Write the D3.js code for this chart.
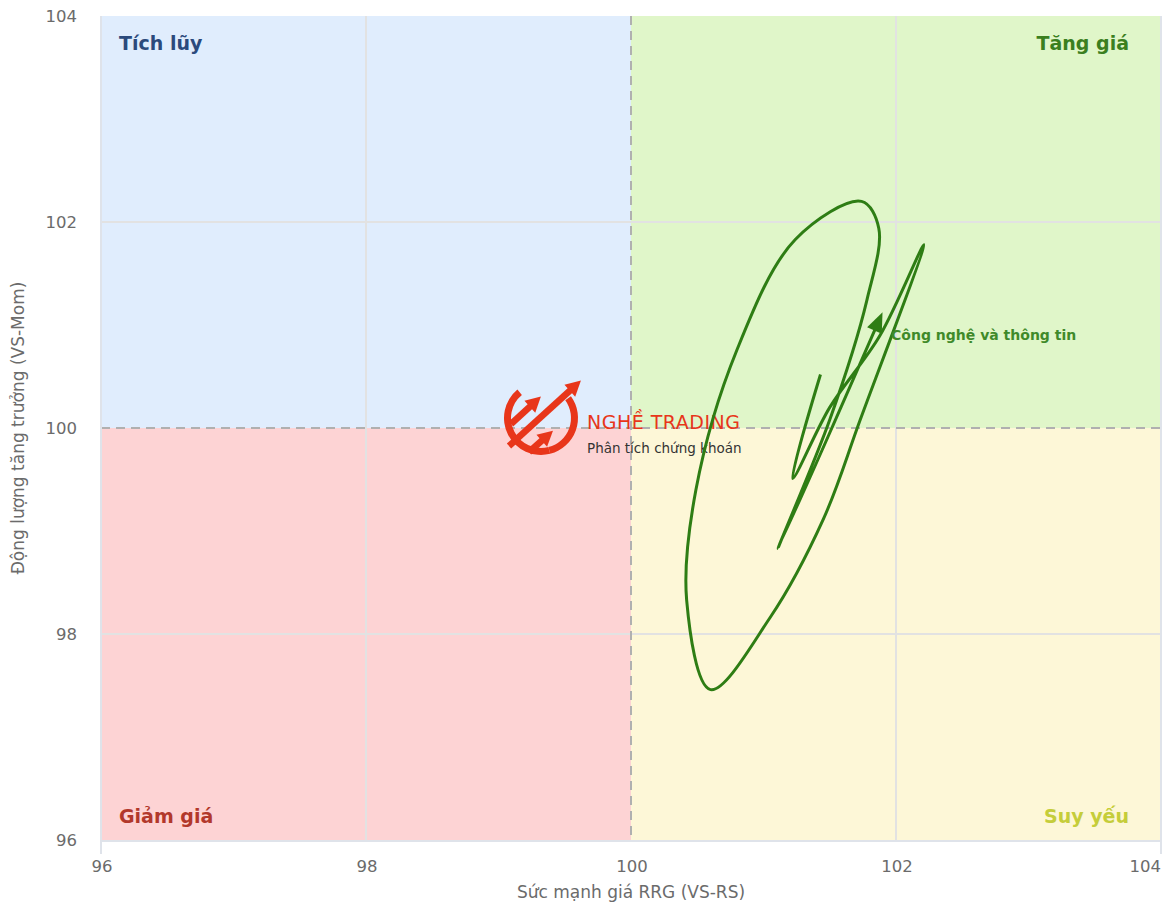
<!DOCTYPE html>
<html><head><meta charset="utf-8">
<script src="https://cdn.jsdelivr.net/npm/d3@7"></script>
<style>
body{margin:0;background:#fff;}
text{font-family:"DejaVu Sans",sans-serif;}
</style></head>
<body><svg id="c" width="1170" height="912"></svg>
<script>
const xTicks=[96,98,100,102,104];
const yTicks=[96,98,100,102,104];
const seriesName="Công nghệ và thông tin";
const rsValues=[101.43,101.22,101.5,101.88,102.21,101.73,101.45,101.05,100.6,100.42,100.49,100.8,101.24,101.74,101.87,101.78,101.5,101.11,101.88];
const momValues=[100.52,99.51,100.2,100.9,101.78,100.08,99.11,98.16,97.46,98.33,99.4,100.76,101.83,102.2,101.94,101.24,100.08,98.83,101.07];
const quadrants=[
 {name:"Tích lũy",x0:96,x1:100,y0:100,y1:104,fill:"#e0edfd",color:"#2b4a7c",pos:"tl"},
 {name:"Tăng giá",x0:100,x1:104,y0:100,y1:104,fill:"#e0f6c9",color:"#3b7f1f",pos:"tr"},
 {name:"Giảm giá",x0:96,x1:100,y0:96,y1:100,fill:"#fdd3d4",color:"#b2382b",pos:"bl"},
 {name:"Suy yếu",x0:100,x1:104,y0:96,y1:100,fill:"#fdf7d7",color:"#c5cd3a",pos:"br"}
];
const svg=d3.select("#c");
const x=d3.scaleLinear().domain([96,104]).range([101,1161]);
const y=d3.scaleLinear().domain([96,104]).range([840,16]);

svg.selectAll("rect.q").data(quadrants).join("rect")
 .attr("x",d=>x(d.x0)).attr("y",d=>y(d.y1))
 .attr("width",d=>x(d.x1)-x(d.x0)).attr("height",d=>y(d.y0)-y(d.y1))
 .attr("fill",d=>d.fill);

// grid
svg.selectAll("line.gx").data(xTicks.filter(t=>t!==100&&t!==96&&t!==104)).join("line")
 .attr("x1",d=>x(d)).attr("x2",d=>x(d)).attr("y1",y(104)).attr("y2",y(96))
 .attr("stroke","#e2e2e2").attr("stroke-width",2);
svg.selectAll("line.gy").data(yTicks.filter(t=>t!==100&&t!==96&&t!==104)).join("line")
 .attr("y1",d=>y(d)).attr("y2",d=>y(d)).attr("x1",x(96)).attr("x2",x(104))
 .attr("stroke","#e2e2e2").attr("stroke-width",2);
svg.append("line").attr("x1",x(100)).attr("x2",x(100)).attr("y1",y(104)).attr("y2",y(96))
 .attr("stroke","#b0b0b0").attr("stroke-width",2).attr("stroke-dasharray","9,6");
svg.append("line").attr("y1",y(100)).attr("y2",y(100)).attr("x1",x(96)).attr("x2",x(104))
 .attr("stroke","#b0b0b0").attr("stroke-width",2).attr("stroke-dasharray","9,6");
// outer lines
svg.append("line").attr("x1",x(96)).attr("x2",x(96)).attr("y1",y(104)).attr("y2",y(96)+14).attr("stroke","#dfe3ea").attr("stroke-width",2);
svg.append("line").attr("x1",x(104)).attr("x2",x(104)).attr("y1",y(104)).attr("y2",y(96)+14).attr("stroke","#dfe3ea").attr("stroke-width",2);
svg.append("line").attr("x1",x(96)).attr("x2",x(104)).attr("y1",y(96)+1).attr("y2",y(96)+1).attr("stroke","#dfe3ea").attr("stroke-width",2);

// tick labels
svg.selectAll("text.yt").data(yTicks).join("text")
 .attr("x",77).attr("y",d=>y(d)+6).attr("text-anchor","end")
 .attr("font-size",16.5).attr("fill","#6b6b6b").text(d=>d);
svg.selectAll("text.xt").data(xTicks).join("text")
 .attr("x",(d,i)=>i===xTicks.length-1?x(d):x(d)+1).attr("y",y(96)+32)
 .attr("text-anchor",(d,i)=>i===xTicks.length-1?"end":"middle")
 .attr("font-size",16.5).attr("fill","#6b6b6b").text(d=>d);
svg.append("text").attr("x",x(100)).attr("y",898).attr("text-anchor","middle")
 .attr("font-size",17).attr("fill","#6b6b6b").text("Sức mạnh giá RRG (VS-RS)");
svg.append("text").attr("transform",`translate(24,${y(100)}) rotate(-90)`).attr("text-anchor","middle")
 .attr("font-size",17).attr("fill","#6b6b6b").text("Động lượng tăng trưởng (VS-Mom)");

// quadrant labels
svg.selectAll("text.ql").data(quadrants).join("text")
 .attr("x",d=>d.pos[1]==="l"?x(96)+18:x(104)-32)
 .attr("y",d=>d.pos[0]==="t"?y(104)+34:y(96)-17)
 .attr("text-anchor",d=>d.pos[1]==="l"?"start":"end")
 .attr("font-size",19).attr("font-weight","bold").attr("fill",d=>d.color).text(d=>d.name);

// watermark logo
const lg=svg.append("g").attr("transform","translate(541,418)");
const red="#e8361a";
lg.append("path").attr("d",d3.arc()({innerRadius:30,outerRadius:37,startAngle:-0.22*Math.PI,endAngle:-1.08*Math.PI})).attr("fill",red);
lg.append("path").attr("d",d3.arc()({innerRadius:30,outerRadius:37,startAngle:0.3*Math.PI,endAngle:0.92*Math.PI})).attr("fill",red);
[[-32,28,34,-32],[-30,6,-6,-16],[-12,34,6,18]].forEach(a=>{
  lg.append("line").attr("x1",a[0]).attr("y1",a[1]).attr("x2",a[2]).attr("y2",a[3]).attr("stroke",red).attr("stroke-width",6.5);
  const ang=Math.atan2(a[3]-a[1],a[2]-a[0]);
  const L=15,W=8;
  const tx=a[2]+Math.cos(ang)*8,ty=a[3]+Math.sin(ang)*8;
  const bx=tx-Math.cos(ang)*L,by=ty-Math.sin(ang)*L;
  lg.append("path").attr("d",`M${tx},${ty}L${bx-Math.sin(ang)*W},${by+Math.cos(ang)*W}L${bx+Math.sin(ang)*W},${by-Math.cos(ang)*W}Z`).attr("fill",red);
});
svg.append("text").attr("x",587).attr("y",429).attr("font-size",19).attr("fill",red).attr("font-family","Lato,sans-serif").attr("letter-spacing","0.5").text("NGHỀ TRADING");
svg.append("text").attr("x",587).attr("y",453).attr("font-size",13.5).attr("fill","#333").attr("font-family","Lato,sans-serif").text("Phân tích chứng khoán");

// series
const pts=rsValues.map((v,i)=>[x(v),y(momValues[i])]);
const green="#2e7d14";
svg.append("path").attr("d",d3.line().curve(d3.curveCatmullRom.alpha(0.5))(pts))
 .attr("fill","none").attr("stroke",green).attr("stroke-width",3);
const n=pts.length;
const ang=Math.atan2(pts[n-1][1]-pts[n-2][1],pts[n-1][0]-pts[n-2][0]);
const tip=[pts[n-1][0]+Math.cos(ang)*6,pts[n-1][1]+Math.sin(ang)*6];
const base=[tip[0]-Math.cos(ang)*20,tip[1]-Math.sin(ang)*20];
svg.append("path").attr("d",`M${tip}L${base[0]-Math.sin(ang)*8},${base[1]+Math.cos(ang)*8}L${base[0]+Math.sin(ang)*8},${base[1]-Math.cos(ang)*8}Z`).attr("fill",green);
svg.append("text").attr("x",pts[n-1][0]+11).attr("y",pts[n-1][1]+22).attr("font-size",14).attr("font-weight","bold")
 .attr("fill","#3f8a2a").text(seriesName);
</script></body></html>
